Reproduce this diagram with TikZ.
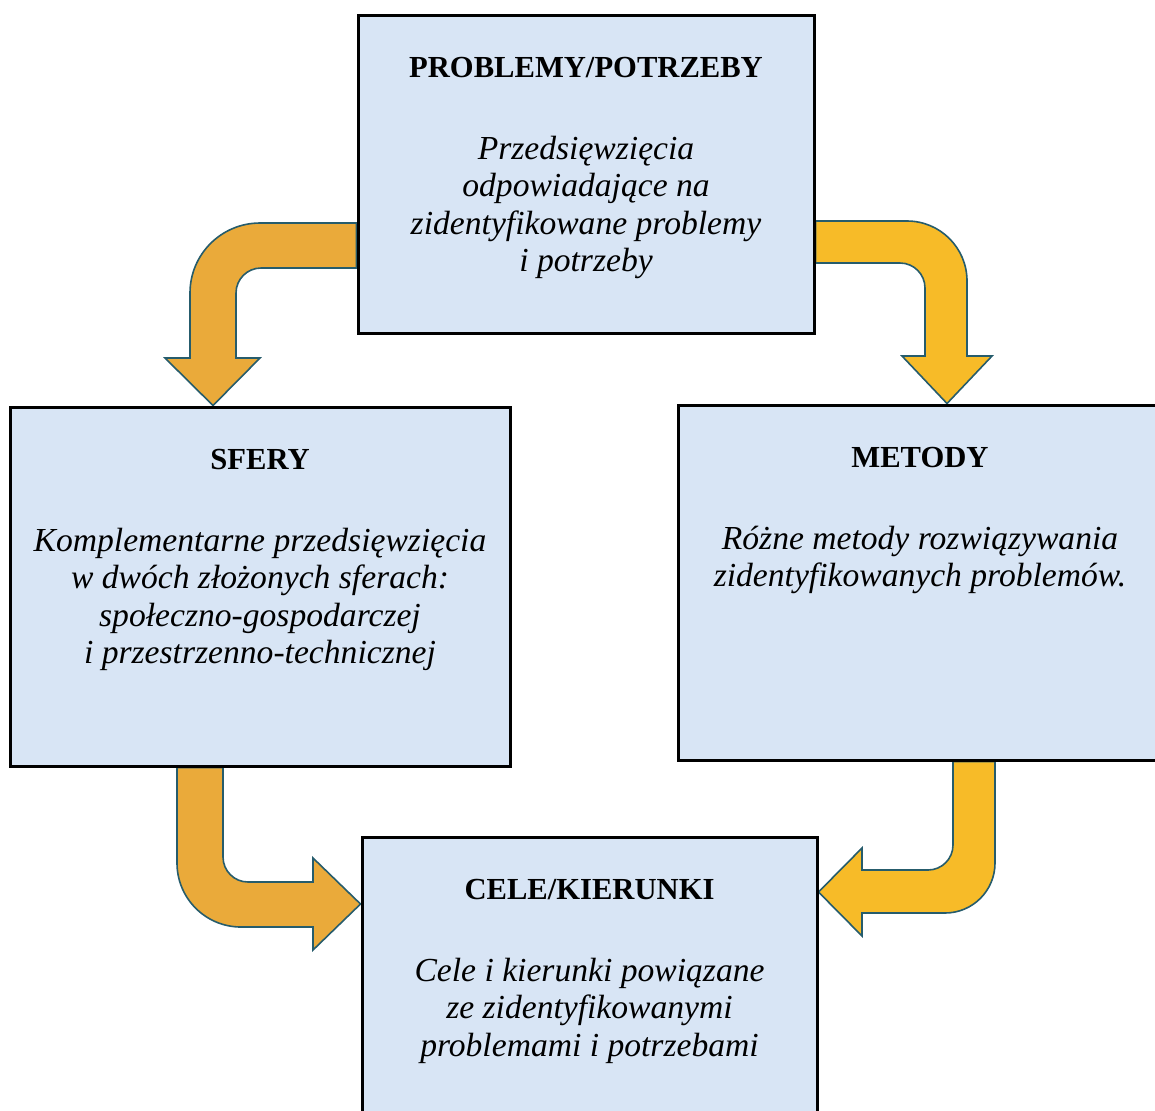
\documentclass[tikz,border=0pt]{standalone}
\usepackage{fontspec}
\setmainfont{Liberation Serif}
\usepackage{tikz}
\usetikzlibrary{backgrounds}

\definecolor{boxblue}{RGB}{216,229,245}
\definecolor{arroworange}{RGB}{234,170,58}
\definecolor{arrowyellow}{RGB}{247,187,40}
\definecolor{arrowline}{RGB}{38,92,108}

\tikzset{
  box/.style={draw=black, line width=1.5pt, fill=boxblue, inner sep=0pt},
  boxtitle/.style={font=\fontsize{15.3}{17}\selectfont\bfseries, inner sep=0pt, anchor=base},
  boxbody/.style={font=\fontsize{16.8}{18.7}\selectfont\itshape, align=center, inner sep=0pt, anchor=north},
  bentarrow/.style={draw=arrowline, line width=0.8pt, line join=miter}
}

\begin{document}
\begin{tikzpicture}[x=0.5pt,y=-0.5pt]
  \useasboundingbox (0,0) rectangle (1155,1110);
  \clip (0,0) rectangle (1155,1110);

  % boxes
  \node[box, minimum width=228pt, minimum height=159pt] (prob) at (586,174) {};
  \node[box, minimum width=250pt, minimum height=179.5pt] (sfery) at (260,586.5) {};
  \node[box, minimum width=242pt, minimum height=177.5pt] (metody) at (920,582.5) {};
  \node[box, minimum width=227.5pt, minimum height=146.5pt] (cele) at (589.5,983.5) {};

  % texts
  \node[boxtitle] (probtitle) at ([yshift=-32pt]prob.north) {PROBLEMY/POTRZEBY};
  \node[boxbody] (probbody) at ([yshift=-29pt]probtitle.base)
    {Przedsięwzięcia\\odpowiadające na\\zidentyfikowane problemy\\i potrzeby};
  \node[boxtitle] (sferytitle) at ([yshift=-32pt]sfery.north) {SFERY};
  \node[boxbody] (sferybody) at ([yshift=-29pt]sferytitle.base)
    {Komplementarne przedsięwzięcia\\w dwóch złożonych sferach:\\społeczno-gospodarczej\\i przestrzenno-technicznej};
  \node[boxtitle] (metodytitle) at ([yshift=-32pt]metody.north) {METODY};
  \node[boxbody] (metodybody) at ([yshift=-29pt]metodytitle.base)
    {Różne metody rozwiązywania\\zidentyfikowanych problemów.};
  \node[boxtitle] (celetitle) at ([yshift=-32pt]cele.north) {CELE/KIERUNKI};
  \node[boxbody] (celebody) at ([yshift=-29pt]celetitle.base)
    {Cele i kierunki powiązane\\ze zidentyfikowanymi\\problemami i potrzebami};

  % bent arrows behind the boxes
  \begin{pgfonlayer}{background}
    \draw[bentarrow, fill=arroworange]
      (prob.west |- 0,223) [rounded corners=35pt] -- (190,223) [sharp corners] -- (190,358)
      -- (165,358) -- (213,0 |- sfery.north) -- (260,358) -- (236,358)
      [rounded corners=12.5pt] -- (236,268) [sharp corners] -- (prob.west |- 0,268) -- cycle;
    \draw[bentarrow, fill=arrowyellow]
      (prob.east |- 0,221) [rounded corners=30pt] -- (967,221) [sharp corners] -- (967,356)
      -- (992,356) -- (947,0 |- metody.north) -- (902,356) -- (925,356)
      [rounded corners=12.5pt] -- (925,263) [sharp corners] -- (prob.east |- 0,263) -- cycle;
    \draw[bentarrow, fill=arroworange]
      (177,0 |- sfery.south) [rounded corners=32pt] -- (177,927) [sharp corners] -- (313,927)
      -- (313,950) -- (cele.west |- 0,904) -- (313,858) -- (313,882)
      [rounded corners=12.5pt] -- (223,882) [sharp corners] -- (223,0 |- sfery.south) -- cycle;
    \draw[bentarrow, fill=arrowyellow]
      (953,0 |- metody.south) [rounded corners=12.5pt] -- (953,870) [sharp corners] -- (862,870)
      -- (862,848) -- (cele.east |- 0,892) -- (862,936) -- (862,913)
      [rounded corners=25pt] -- (995,913) [sharp corners] -- (995,0 |- metody.south) -- cycle;
  \end{pgfonlayer}
\end{tikzpicture}
\end{document}
